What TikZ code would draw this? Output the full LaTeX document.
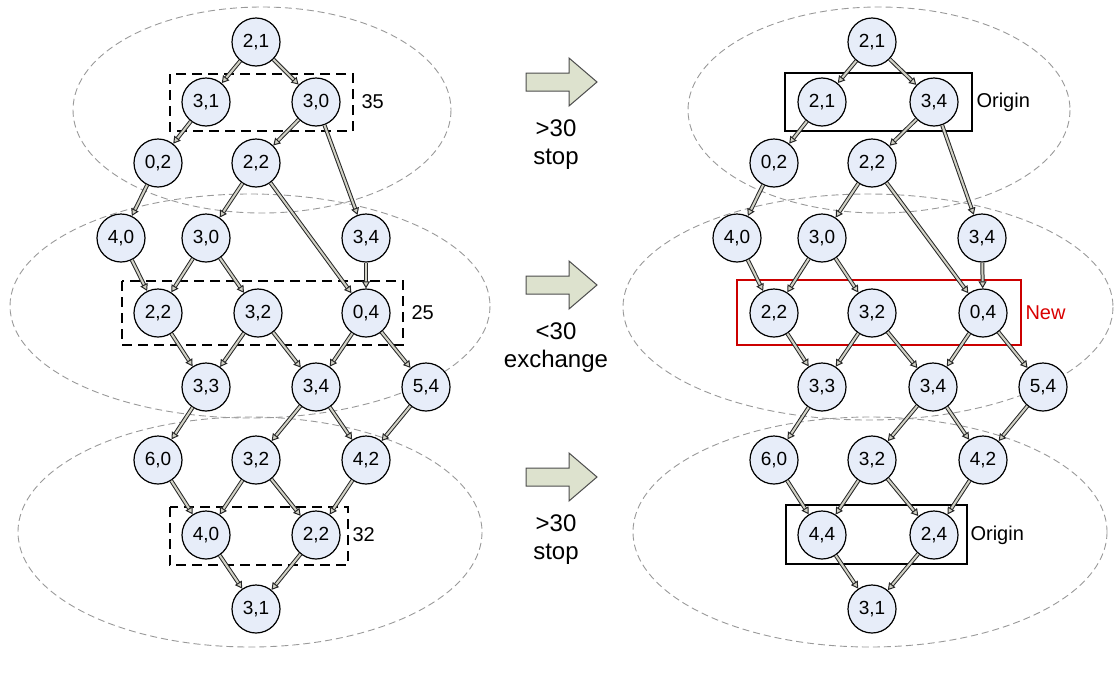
\documentclass[tikz,border=0pt]{standalone}
\usepackage{fontspec}
\setmainfont{Liberation Sans}
\usetikzlibrary{arrows.meta}
\definecolor{nodefill}{RGB}{231,237,249}
\definecolor{arrowfill}{RGB}{221,226,206}
\definecolor{linkfill}{RGB}{210,210,198}
\begin{document}
\begin{tikzpicture}[x=1pt,y=-1pt,
		state/.style={circle, draw, line width=1.2pt, fill=nodefill, minimum size=48pt, inner sep=0pt, font=\fontsize{19}{19}\selectfont},
		link/.style={line width=1pt, draw=black!85, double=linkfill, double distance=2pt, -{Triangle[open, length=7pt, width=8pt, fill=linkfill]}},
		group/.style={draw=gray!80, line width=0.9pt, dash pattern=on 7pt off 4pt},
		pick/.style={draw, line width=1.7pt, dash pattern=on 10pt off 6pt},
		keep/.style={draw, line width=1.4pt},
		note/.style={font=\fontsize{20}{20}\selectfont, anchor=west},
		steptext/.style={font=\fontsize{24}{28}\selectfont, align=center}]
	\useasboundingbox (0,0) rectangle (1114,675);
	% First graph
	\draw[group] (262,110) ellipse (189 and 103);
	\draw[group] (250,306) ellipse (240 and 112);
	\draw[group] (250,532) ellipse (232 and 115);
	\node[state] (La1) at (256,42) {2,1};
	\node[state] (Lb1) at (206,102) {3,1};
	\node[state] (Lb2) at (316,102) {3,0};
	\node[state] (Lc1) at (158,163) {0,2};
	\node[state] (Lc2) at (256,163) {2,2};
	\node[state] (Ld1) at (121,238) {4,0};
	\node[state] (Ld2) at (206,238) {3,0};
	\node[state] (Ld3) at (366,238) {3,4};
	\node[state] (Le1) at (158,313) {2,2};
	\node[state] (Le2) at (258,313) {3,2};
	\node[state] (Le3) at (366,313) {0,4};
	\node[state] (Lf1) at (206,387) {3,3};
	\node[state] (Lf2) at (316,387) {3,4};
	\node[state] (Lf3) at (426,387) {5,4};
	\node[state] (Lg1) at (158,460) {6,0};
	\node[state] (Lg2) at (256,460) {3,2};
	\node[state] (Lg3) at (366,460) {4,2};
	\node[state] (Lh1) at (206,535) {4,0};
	\node[state] (Lh2) at (316,535) {2,2};
	\node[state] (Li1) at (256,609) {3,1};
	\draw[pick] (170,74) rectangle (353,131);
	\draw[pick] (122,281) rectangle (403,345);
	\draw[pick] (170,507) rectangle (348,565);
	\node[note] (Lt1) at (358,102) {35};
	\node[note] (Lt2) at (408,313) {25};
	\node[note] (Lt3) at (349,535) {32};
	% Second graph
	\begin{scope}[xshift=616pt]
		\draw[group] (263,110) ellipse (191 and 103);
		\draw[group] (252,307) ellipse (245 and 113);
		\draw[group] (254,532) ellipse (237 and 115);
		\node[state] (Ra1) at (256,42) {2,1};
		\node[state] (Rb1) at (206,102) {2,1};
		\node[state] (Rb2) at (318,102) {3,4};
		\node[state] (Rc1) at (158,163) {0,2};
		\node[state] (Rc2) at (256,163) {2,2};
		\node[state] (Rd1) at (121,238) {4,0};
		\node[state] (Rd2) at (206,238) {3,0};
		\node[state] (Rd3) at (366,238) {3,4};
		\node[state] (Re1) at (158,313) {2,2};
		\node[state] (Re2) at (256,313) {3,2};
		\node[state] (Re3) at (367,313) {0,4};
		\node[state] (Rf1) at (206,387) {3,3};
		\node[state] (Rf2) at (317,387) {3,4};
		\node[state] (Rf3) at (427,387) {5,4};
		\node[state] (Rg1) at (158,460) {6,0};
		\node[state] (Rg2) at (256,460) {3,2};
		\node[state] (Rg3) at (367,460) {4,2};
		\node[state] (Rh1) at (206,535) {4,4};
		\node[state] (Rh2) at (318,535) {2,4};
		\node[state] (Ri1) at (256,609) {3,1};
		\draw[keep] (169,73) rectangle (356,131);
		\draw[keep, draw=red!80!black] (121,280) rectangle (405,345);
		\draw[keep] (170,505) rectangle (351,564);
		\node[note] (Rt1) at (357,102) {Origin};
		\node[note, text=red!85!black] (Rt2) at (406,313) {New};
		\node[note] (Rt3) at (351,535) {Origin};
	\end{scope}
	% links
	\foreach \g in {L,R}
		\foreach \s/\t in {a1/b1, a1/b2, b1/c1, b2/c2, b2/d3, c1/d1, c2/d2, c2/e3,
			d1/e1, d2/e1, d2/e2, d3/e3, e1/f1, e2/f1, e2/f2, e3/f2, e3/f3,
			f1/g1, f2/g2, f2/g3, f3/g3, g1/h1, g2/h1, g2/h2, g3/h2, h1/i1, h2/i1}
			\draw[link] (\g\s) -- (\g\t);
	% middle arrows
	\foreach \y/\txt [count=\i] in {82/{>30\\stop}, 285/{<30\\exchange}, 477/{>30\\stop}} {
		\draw[fill=arrowfill, draw=black!70, line width=1pt]
			(526,\y-9) -- (569,\y-9) -- (569,\y-24) -- (597,\y) -- (569,\y+24)
			-- (569,\y+9) -- (526,\y+9) -- cycle;
		\node[steptext, anchor=north] (m\i) at (556,\y+34) {\txt};
	}
\end{tikzpicture}
\end{document}
